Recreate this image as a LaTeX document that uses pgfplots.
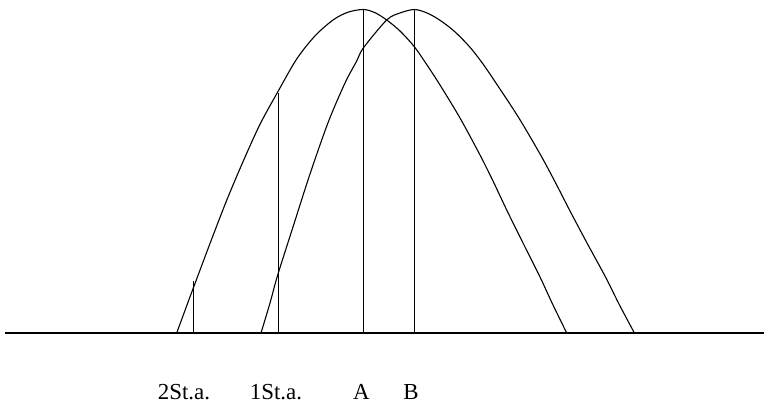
\documentclass[border=0pt]{standalone}
\usepackage{pgfplots}
\pgfplotsset{compat=1.18}
\usepackage{fontspec}
\setmainfont{Liberation Serif}
\begin{document}
\begin{tikzpicture}
\begin{axis}[
    scale only axis,
    width=764bp, height=404bp,
    xmin=0, xmax=764,
    ymin=-71, ymax=333,
    hide axis,
    clip=false,
    ln/.style={black, solid, no markers, line width=1.1pt},
]
% baseline
\addplot[ln] coordinates {(5,0)(764,0)};
% curve 1 (peak at A)
\addplot[ln, smooth] coordinates {
(176.7,0)(185,22.6)(193.3,45)(210,89.5)(226.7,132.7)(243.3,172)(260,208.7)(277.7,241)
(296.7,274)(315,297.1)(333.3,313.2)(348,320.8)(363.3,323.5)(375,320.3)(386.7,313)(400,302)
(414.3,286.3)(427,268)(440,248)(460,215)(480,178)(493,152)(506.7,123)(523,90)(540,56)
(553,28)(566.7,0)
};
% curve 2 (peak at B)
\addplot[ln, smooth] coordinates {
(261,0)(270,30)(277.7,58)(293.3,107)(310,159)(328.3,211)(345,250)(356.7,272)(363.3,285)
(386.7,313)(400,320)(414.3,323.5)(427,320)(439.6,313)(454,302)(469.5,286.3)(483,269)
(497.3,248)(518.9,215)(540.6,178)(554.6,152)(569.5,123)(587,90)(605.5,56)(619.5,28)(634.4,0)
};
% verticals
\addplot[ln] coordinates {(193.3,0)(193.3,52)};
\addplot[ln] coordinates {(278.3,0)(278.3,240)};
\addplot[ln] coordinates {(363.3,0)(363.3,323.5)};
\addplot[ln] coordinates {(414.3,0)(414.3,323.5)};
% labels
\begin{scope}[every node/.style={anchor=base, inner sep=0pt, font=\fontsize{23}{27}\selectfont}]
\node at (axis cs:184,-66) {2St.a.};
\node at (axis cs:276,-66) {1St.a.};
\node at (axis cs:361.5,-66) {A};
\node at (axis cs:411,-66) {B};
\end{scope}
\end{axis}
\pgfresetboundingbox
\path (current axis.south west) rectangle (current axis.north east);
\end{tikzpicture}
\end{document}
